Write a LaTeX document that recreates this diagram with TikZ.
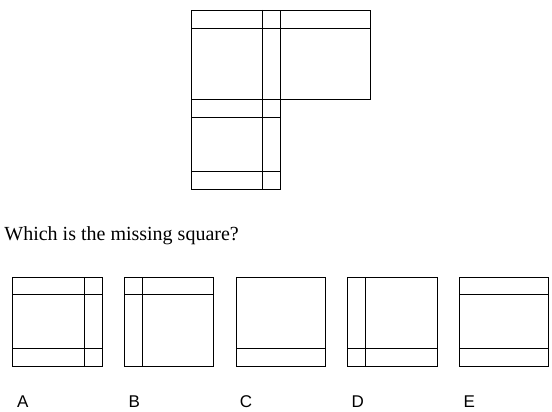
\documentclass[tikz,border=0pt]{standalone}
\usepackage{fontspec}
\setmainfont{Liberation Serif}
\newfontfamily\optfont{Liberation Sans}
\usetikzlibrary{calc}

\begin{document}
\begin{tikzpicture}[x=1pt,y=-1pt,line width=0.8pt,
    optlabel/.style={anchor=base,font=\optfont\fontsize{17}{17}\selectfont}]
    \useasboundingbox (0,0) rectangle (552,412);

    % the three squares of the puzzle
    \draw (191,10) rectangle (280,99);
    \draw (280,10) rectangle (370,99);
    \draw (191,99) rectangle (280,189);
    \draw (191,28.7) -- (370,28.7);
    \draw (262.7,10) -- (262.7,189);
    \foreach \i in {117.3,171} {
        \draw (191,\i) -- (280,\i);
    }

    \node[anchor=base west,inner sep=0pt,font=\fontsize{20}{20}\selectfont] (question) at (4,240) {Which is the missing square?};

    % the five answers
    \foreach \x/\lbl in {12.7/A,124.3/B,236/C,347.7/D,459.3/E} {
        \draw (\x,277) rectangle ++(89.5,89.5);
        \node[optlabel] (opt\lbl) at (\x+10,407.3) {\lbl};
    }
    % top bands
    \foreach \x in {12.7,124.3,459.3} {
        \draw (\x,294.7) -- ++(89.5,0);
    }
    % bottom bands
    \foreach \x in {12.7,236,347.7,459.3} {
        \draw (\x,348.7) -- ++(89.5,0);
    }
    % side bands
    \foreach \x in {84.7,142.7,365.7} {
        \draw (\x,277) -- ++(0,89.5);
    }
\end{tikzpicture}
\end{document}
